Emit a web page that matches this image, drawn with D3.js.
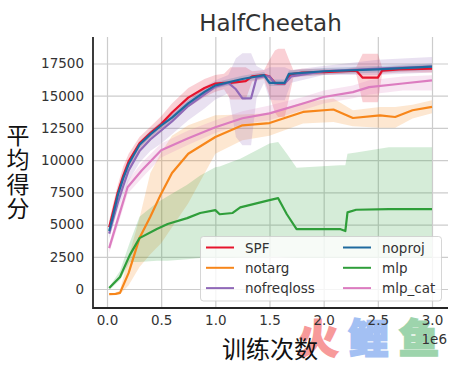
<!DOCTYPE html>
<html>
<head>
<meta charset="utf-8">
<script src="https://cdn.jsdelivr.net/npm/d3@7"></script>
<style>
body { margin: 0; background: #fff; }
text { font-family: "DejaVu Sans", sans-serif; }
</style>
</head>
<body>
<div id="chart"></div>
<script>
let width = 465, height = 365;

let xTicks = [0, 0.5, 1, 1.5, 2, 2.5, 3];
let yTicks = [0, 2500, 5000, 7500, 10000, 12500, 15000, 17500];

// values
let spfX = [.02,.05,.1,.15,.2,.3,.4,.5,.6,.75,.9,1,1.08,1.14,1.28,1.34,1.45,1.5,1.55,1.58,1.64,1.68,1.72,1.8,2,2.2,2.3,2.36,2.5,2.54,2.7,3];
let spfMean = [4800,5800,7500,8800,9900,11300,12100,12800,13700,14850,15600,15950,16000,16000,16130,16500,16600,16500,16000,15930,15930,16500,16700,16800,16830,16900,16950,16400,16400,16950,17050,17100];
let spfLo = [4300,5200,6900,8100,9300,10800,11600,12200,13000,14100,14900,15300,15500,14700,14700,16100,16300,15000,13700,13350,13350,14800,16400,16500,16600,16700,16700,14500,14500,16700,16800,16800];
let spfHi = [5300,6400,8100,9500,10500,11800,12600,13400,14400,15600,16300,16600,16700,17200,17200,16900,17000,17800,18500,18650,18650,17800,17000,17100,17100,17100,17200,18250,18250,17200,17300,17400];

let notargX = [.02,.08,.12,.2,.3,.4,.5,.6,.75,1,1.25,1.5,1.81,2.09,2.27,2.52,2.66,2.82,3];
let notargMean = [-400,-380,-300,1250,3950,5600,7400,9000,10500,11800,12700,12880,13740,13930,13270,13470,13350,13870,14130];
let notargLo = [-450,-450,-400,300,1700,2700,3560,4800,6660,10500,11540,11900,12850,12960,12630,12520,12520,13240,13630];
let notargHi = [-350,-300,-100,2500,5500,9000,10600,11900,12700,13480,13550,13630,14500,14790,13870,14130,14130,14300,14640];

let nofreqX = [.02,.05,.1,.15,.2,.3,.4,.5,.6,.75,.9,1,1.12,1.19,1.25,1.33,1.38,1.45,1.5,1.55,1.64,1.7,2,2.5,3];
let nofreqMean = [4300,5200,6700,8000,9200,10700,11600,12300,13000,14200,15100,15700,16000,15500,14800,14800,16400,16500,16500,15950,15950,16500,16900,17100,17250];
let nofreqLo = [3900,4700,6100,7300,8400,9800,10700,11300,12000,13100,14000,14700,15200,11800,11150,11150,14800,16000,14700,14650,14650,16000,16600,16600,16800];
let nofreqHi = [4800,5700,7300,8600,9900,11400,12300,13000,13700,14900,15700,16200,16600,17900,18300,18300,17300,17000,17200,17200,17200,17000,17300,17800,18000];

let noprojX = [.02,.05,.1,.15,.2,.3,.4,.5,.6,.75,.9,1,1.25,1.45,1.5,1.64,1.68,2,2.5,3];
let noprojMean = [4500,5500,7300,8600,9700,11200,12000,12700,13300,14400,15300,15800,16300,16600,16000,16000,16700,16900,17050,17250];
let noprojLo = [4250,5250,7050,8350,9450,10950,11750,12450,13050,14150,15050,15550,16050,16350,15750,15750,16450,16650,16800,17000];
let noprojHi = [4750,5750,7550,8850,9950,11450,12250,12950,13550,14650,15550,16050,16550,16850,16250,16250,16950,17150,17300,17500];

let mlpX = [.02,.12,.21,.3,.46,.56,.74,.86,1,1.04,1.16,1.23,1.5,1.58,1.66,1.75,2.15,2.2,2.22,2.3,2.6,3];
let mlpMean = [80,930,2630,3950,4650,5040,5500,5900,6120,5800,5900,6330,6900,7050,5800,4650,4650,4500,5950,6150,6200,6200];
let mlpLo = [-100,700,2100,2100,2200,2200,2300,2400,2400,2400,2400,2450,2500,2500,2450,2400,2400,2400,2400,2400,2400,2400];
let mlpHi = [150,1400,3600,5600,6700,7200,8100,8800,9450,9500,9900,10100,11300,11400,10500,9400,9600,9600,10500,10600,11000,11000];

let catX = [.02,.1,.19,.32,.5,.75,1,1.25,1.5,1.81,2,2.27,2.42,2.73,3];
let catMean = [3170,5400,7900,9200,10770,11700,12550,13250,13630,14400,14900,15280,15670,15950,16190];
let catLo = [2800,4900,7400,8600,10200,11200,12100,12800,13100,13900,14400,14800,15100,15400,15410];
let catHi = [3500,5900,8400,9800,11300,12300,13100,13800,14250,14900,15400,15800,16200,16500,16580];

let seriesNames = ["SPF", "notarg", "nofreqloss", "noproj", "mlp", "mlp_cat"];
let seriesColors = ["#e6142d", "#f7861a", "#9069b8", "#1f6a9f", "#2f9e3a", "#dc7cc0"];
let seriesX = [spfX, notargX, nofreqX, noprojX, mlpX, catX];
let seriesMean = [spfMean, notargMean, nofreqMean, noprojMean, mlpMean, catMean];
let seriesLo = [spfLo, notargLo, nofreqLo, noprojLo, mlpLo, catLo];
let seriesHi = [spfHi, notargHi, nofreqHi, noprojHi, mlpHi, catHi];

let markText = ["火", "鲤", "鱼"];
let markColors = ["#f79a9a", "#a3c0f3", "#9dd4ac"];

let left = 93, right = 448, top_ = 37, bottom = 308;
let ink = "#333333", gridColor = "#cccccc";

let svg = d3.select("#chart").append("svg")
    .attr("width", width)
    .attr("height", height)
    .style("display", "block");

let x = d3.scaleLinear().domain([0, 3]).range([107, 432]);
let y = d3.scaleLinear().domain([0, 17500]).range([289, 63.5]);

// watermark goes first so the tick labels stay readable on top of it
markText.forEach(function(t, i) {
    svg.append("text")
        .attr("x", 318 + i * 50.5).attr("y", 353)
        .attr("text-anchor", "middle")
        .attr("fill", markColors[i])
        .attr("stroke", markColors[i])
        .attr("stroke-width", 2.5)
        .style("font-family", "'Noto Sans CJK SC'")
        .style("font-weight", "700")
        .style("font-size", "40px")
        .text(t);
});

// axes + grid
let xAxis = svg.append("g")
    .attr("transform", "translate(0," + bottom + ")")
    .call(d3.axisBottom(x).tickValues(xTicks).tickFormat(d3.format(".1f")).tickSize(-(bottom - top_)).tickPadding(7));
xAxis.select(".domain").remove();
xAxis.selectAll("line").attr("stroke", gridColor).attr("stroke-width", 1.2);
xAxis.selectAll("text").attr("fill", ink).style("font-size", "13.5px");

let yAxis = svg.append("g")
    .attr("transform", "translate(" + left + ",0)")
    .call(d3.axisLeft(y).tickValues(yTicks).tickFormat(d3.format("d")).tickSize(-(right - left)).tickPadding(9));
yAxis.select(".domain").remove();
yAxis.selectAll("line").attr("stroke", gridColor).attr("stroke-width", 1.2);
yAxis.selectAll("text").attr("fill", ink).style("font-size", "13.5px");

// bands, then lines on top
seriesNames.forEach(function(name, s) {
    let pts = seriesX[s].map(function(d, i) {
        return {x: d, mean: seriesMean[s][i], lo: seriesLo[s][i], hi: seriesHi[s][i]};
    });
    svg.append("path")
        .datum(pts)
        .attr("fill", seriesColors[s])
        .attr("fill-opacity", 0.2)
        .attr("d", d3.area().x(d => x(d.x)).y0(d => y(d.lo)).y1(d => y(d.hi)));
});
seriesNames.forEach(function(name, s) {
    let pts = seriesX[s].map(function(d, i) { return {x: d, mean: seriesMean[s][i]}; });
    svg.append("path")
        .datum(pts)
        .attr("fill", "none")
        .attr("stroke", seriesColors[s])
        .attr("stroke-width", 2.2)
        .attr("stroke-linejoin", "round")
        .attr("d", d3.line().x(d => x(d.x)).y(d => y(d.mean)));
});

// spines
svg.append("line").attr("x1", left).attr("x2", left).attr("y1", top_).attr("y2", bottom + 1)
    .attr("stroke", "#262626").attr("stroke-width", 1.8);
svg.append("line").attr("x1", left).attr("x2", right).attr("y1", bottom).attr("y2", bottom)
    .attr("stroke", "#262626").attr("stroke-width", 1.8);

// legend
svg.append("rect")
    .attr("x", 200.5).attr("y", 236.5).attr("width", 241).attr("height", 64.5).attr("rx", 3)
    .attr("fill", "#fff").attr("fill-opacity", 0.8).attr("stroke", "#cccccc").attr("stroke-opacity", 0.8);
seriesNames.forEach(function(name, s) {
    let col = s < 3 ? 0 : 1;
    let row = s % 3;
    let lx = col == 0 ? 206 : 343;
    let ly = 247.5 + row * 20.3;
    svg.append("line").attr("x1", lx).attr("x2", lx + 28).attr("y1", ly).attr("y2", ly)
        .attr("stroke", seriesColors[s]).attr("stroke-width", 2);
    svg.append("text").attr("x", lx + 39).attr("y", ly + 5)
        .attr("fill", ink).style("font-size", "13.5px").text(name);
});

// titles
svg.append("text").attr("x", 270.5).attr("y", 31).attr("text-anchor", "middle")
    .attr("fill", ink).style("font-size", "23px").text("HalfCheetah");
svg.append("text").attr("x", 447).attr("y", 344).attr("text-anchor", "end")
    .attr("fill", ink).style("font-size", "13.5px").text("1e6");
svg.append("text").attr("x", 270).attr("y", 358).attr("text-anchor", "middle")
    .attr("fill", "#111").style("font-family", "'Noto Sans CJK SC'").style("font-size", "24px").text("训练次数");

let yLabel = ["平", "均", "得", "分"];
svg.selectAll("text.ylab")
    .data(yLabel)
    .enter()
    .append("text")
    .attr("class", "ylab")
    .attr("x", 18)
    .attr("y", (d, i) => 144 + i * 24.3)
    .attr("text-anchor", "middle")
    .attr("fill", "#111")
    .style("font-family", "'Noto Sans CJK SC'")
    .style("font-size", "23px")
    .text(d => d);
</script>
</body>
</html>
